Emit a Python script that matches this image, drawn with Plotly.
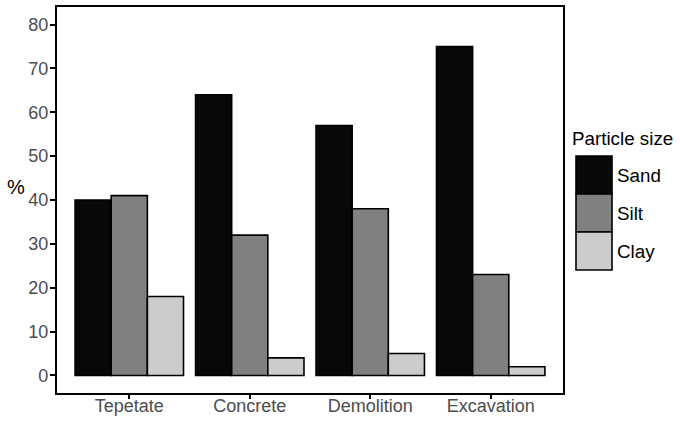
import plotly.graph_objects as go

categories = ["Tepetate", "Concrete", "Demolition", "Excavation"]
sand = [40, 64, 57, 75]
silt = [41, 32, 38, 23]
clay = [18, 4, 5, 2]
series_names = ["Sand", "Silt", "Clay"]
series_colors = ["#070808", "#808080", "#cccccc"]
y_ticks = [0, 10, 20, 30, 40, 50, 60, 70, 80]

W, H = 680, 422
L, R, T, B = 57, 117, 7, 29
pw = W - L - R
ph = H - T - B

def px2x(px):
    return (px - L) / pw

def py2y(py):
    return (H - B - py) / ph

fig = go.Figure()
for name, vals, col in zip(series_names, [sand, silt, clay], series_colors):
    fig.add_trace(go.Bar(
        x=categories, y=vals, name=name,
        marker=dict(color=col, line=dict(color="#000000", width=1.6)),
        showlegend=False, hoverinfo="skip",
    ))

font_family = "Liberation Sans, Arial, Helvetica, sans-serif"

fig.update_layout(
    width=W, height=H,
    margin=dict(l=L, r=R, t=T, b=B, pad=0, autoexpand=False),
    paper_bgcolor="white", plot_bgcolor="white",
    barmode="group", bargap=0.1, bargroupgap=0,
    font=dict(family=font_family, size=18, color="#4d4d4d"),
    xaxis=dict(
        type="category", range=[-0.6, 3.6], automargin=False,
        showline=True, mirror=True, linecolor="black", linewidth=2.2,
        showgrid=False, zeroline=False,
        ticks="outside", ticklen=4, tickwidth=1.5, tickcolor="black",
        ticklabelstandoff=-9,
        tickfont=dict(size=18, color="#4d4d4d"),
    ),
    yaxis=dict(
        range=[-4, 84], tickvals=y_ticks, automargin=False,
        showline=True, mirror=True, linecolor="black", linewidth=2.2,
        showgrid=False, zeroline=False,
        ticks="outside", ticklen=5, tickwidth=1.5, tickcolor="black",
        ticklabelstandoff=-2,
        tickfont=dict(size=18, color="#4d4d4d"),
    ),
)

annotations = [
    dict(text="%", xref="paper", yref="paper", x=px2x(16), y=py2y(187),
         xanchor="center", yanchor="middle", showarrow=False,
         font=dict(size=20, color="black", family=font_family)),
    dict(text="Particle size", xref="paper", yref="paper", x=px2x(570), y=py2y(138),
         xanchor="left", yanchor="middle", showarrow=False,
         font=dict(size=18.8, color="black", family=font_family)),
]
shapes = []
key_tops = [156, 194, 232]
key_h = 38
for name, col, top in zip(series_names, series_colors, key_tops):
    shapes.append(dict(type="rect", xref="paper", yref="paper",
                       x0=px2x(576), x1=px2x(612), y0=py2y(top + key_h), y1=py2y(top),
                       fillcolor=col, line=dict(color="black", width=1.6)))
    annotations.append(dict(text=name, xref="paper", yref="paper",
                            x=px2x(615), y=py2y(top + key_h / 2),
                            xanchor="left", yanchor="middle", showarrow=False,
                            font=dict(size=18.8, color="black", family=font_family)))

fig.update_layout(annotations=annotations, shapes=shapes)
fig.write_html("out.html", config={"displayModeBar": False},
               post_script="document.body.style.margin='0px';")
